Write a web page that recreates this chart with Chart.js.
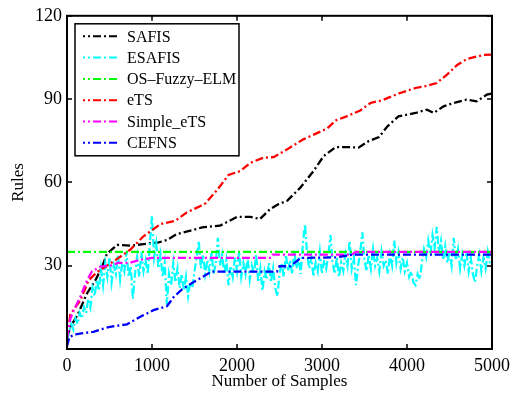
<!DOCTYPE html>
<html>
<head>
<meta charset="utf-8">
<script src="https://cdn.jsdelivr.net/npm/chart.js@4/dist/chart.umd.min.js"></script>
<style>
html,body{margin:0;padding:0;background:#fff;}
#c{display:block;}
</style>
</head>
<body>
<canvas id="c" width="516" height="394"></canvas>
<script>
// ---- data ----
const seriesNames = ["SAFIS", "ESAFIS", "OS\u2013Fuzzy\u2013ELM", "eTS", "Simple_eTS", "CEFNS"];
const xTickValues = [0, 1000, 2000, 3000, 4000, 5000];
const yTickValues = [30, 60, 90, 120];

const safisSamples = [0, 40, 120, 235, 333, 412, 470, 590, 750, 900, 1080, 1180, 1290, 1450, 1590, 1800, 2000, 2160, 2270, 2390, 2490, 2590, 2745, 2900, 3020, 3160, 3330, 3430, 3550, 3670, 3770, 3900, 4100, 4235, 4315, 4430, 4550, 4700, 4820, 4940, 5000];
const safisRules   = [4, 8, 12, 20, 24.7, 29.5, 34.3, 37.5, 37.2, 37.8, 38.4, 39.3, 41.4, 42.6, 43.8, 44.4, 47.6, 47.6, 46.8, 50.4, 52.2, 53.4, 58.1, 64.1, 69.5, 72.7, 72.7, 72.5, 74.9, 76.3, 80.2, 83.8, 85, 86.2, 85, 87.4, 88.6, 89.8, 89.2, 91.6, 92];

const esafisStep = 25; // one reading every 25 samples
const esafisRules = [
  3,6,9,7,11,9,13,11,15,13,18,15,22,19,25,21,29,23,31,26,
  33,24,30,27,34,25,31,28,35,26,30,18,27,33,26,35,28,32,27,38,
  48,33,38,29,34,26,31,16,27,23,31,24,29,22,27,21,26,19,24,22,
  28,33,39,29,34,27,32,28,35,27,31,40,30,34,27,32,23,30,26,33,
  28,35,26,31,27,33,25,30,27,34,24,29,21,28,25,31,24,29,22,19,
  27,31,26,34,28,32,27,35,29,33,27,38,45,34,29,33,26,31,28,35,
  27,32,29,34,41,31,27,33,26,31,28,34,30,39,29,33,23,30,35,42,
  32,28,34,29,36,30,33,28,35,30,32,27,34,30,39,31,35,29,33,28,
  31,26,28,24,23,27,25,31,36,33,39,34,41,36,44,35,39,32,37,31,
  35,30,40,32,36,29,34,30,35,28,33,27,24,30,34,28,33,29,35,31,
  30
];

const osElmSamples = [0, 5000];
const osElmRules   = [35, 35];

const etsSamples = [0, 40, 156, 254, 353, 510, 607, 745, 900, 1100, 1275, 1410, 1570, 1630, 1765, 1900, 2040, 2160, 2310, 2430, 2590, 2780, 3060, 3160, 3290, 3450, 3570, 3710, 3920, 4100, 4235, 4350, 4470, 4590, 4710, 4900, 5000];
const etsRules   = [4, 12.5, 17.5, 24.7, 27.7, 30.8, 32.8, 35.8, 40.6, 45, 46.2, 49.2, 51.5, 52.5, 57.2, 62.7, 64.1, 67.1, 68.9, 69.1, 71.9, 75.5, 79.4, 82.3, 83.8, 85.9, 88.6, 89.6, 92.2, 94, 94.8, 95.8, 98.8, 102.3, 104.5, 105.9, 106];

const simpleSamples = [0, 40, 80, 156, 235, 294, 392, 510, 600, 730, 860, 1000, 2400, 2420, 3350, 3400, 5000];
const simpleRules   = [4, 11, 14, 18.7, 24.7, 28, 29.7, 30, 31, 31, 32.1, 32.8, 32.8, 34, 34, 35, 35];

const cefnsSamples = [0, 30, 118, 310, 490, 705, 862, 1018, 1176, 1255, 1353, 1490, 1647, 1700, 2470, 2500, 2630, 2750, 3170, 3370, 5000];
const cefnsRules   = [1, 4.4, 5.4, 6.2, 7.9, 8.9, 11.6, 14, 15.4, 18.7, 21.5, 24.1, 26.9, 27.9, 27.9, 29.8, 29.8, 32.8, 33, 34, 34];

// ---- build chart ----
function pairs(xs, ys){ return ys.map((v,i)=>({x:xs[i], y:v})); }
const esafisPoints = esafisRules.map((v,i)=>({x:i*esafisStep, y:v}));

const FONT = "'Liberation Serif','Times New Roman',Times,serif";
const DASH = [8,3,2,3];

function ds(label, data, color, order, width){
  return {label, data, borderColor: color, backgroundColor: color, borderWidth: width||2.3,
          borderDash: DASH, pointRadius: 0, tension: 0, fill: false, order};
}

const datasets = [
  ds(seriesNames[0], pairs(safisSamples, safisRules), '#000000', 6),
  ds(seriesNames[1], esafisPoints, '#00FFFF', 5, 2.2),
  ds(seriesNames[2], pairs(osElmSamples, osElmRules), '#00FF00', 4),
  ds(seriesNames[3], pairs(etsSamples, etsRules), '#FF0000', 3),
  ds(seriesNames[4], pairs(simpleSamples, simpleRules), '#FF00FF', 2),
  ds(seriesNames[5], pairs(cefnsSamples, cefnsRules), '#0000FF', 1)
];

const framePlugin = {
  id: 'frame',
  afterDraw(chart){
    const {ctx, chartArea:a, scales:{x, y}} = chart;
    ctx.save();
    ctx.strokeStyle = '#000';
    ctx.lineWidth = 1.5;
    ctx.setLineDash([]);
    const T = 5;
    ctx.beginPath();
    xTickValues.forEach(v=>{
      const px = Math.round(x.getPixelForValue(v));
      ctx.moveTo(px, a.bottom); ctx.lineTo(px, a.bottom - T);
      ctx.moveTo(px, a.top); ctx.lineTo(px, a.top + T);
    });
    [0].concat(yTickValues).forEach(v=>{
      const py = Math.round(y.getPixelForValue(v));
      ctx.moveTo(a.left, py); ctx.lineTo(a.left + T, py);
      ctx.moveTo(a.right, py); ctx.lineTo(a.right - T, py);
    });
    ctx.stroke();
    ctx.lineWidth = 2;
    ctx.strokeRect(a.left, a.top, a.right - a.left, a.bottom - a.top);

    // legend box
    const lx = a.left + 8, ly = a.top + 8, lw = 164, lh = 132;
    ctx.fillStyle = '#fff';
    ctx.fillRect(lx, ly, lw, lh);
    ctx.lineWidth = 1.5;
    ctx.strokeRect(lx, ly, lw, lh);
    ctx.font = "16px " + FONT;
    ctx.textBaseline = 'middle';
    ctx.textAlign = 'left';
    chart.data.datasets.forEach((d, i)=>{
      const cy = ly + 12.5 + i * 21.3;
      ctx.strokeStyle = d.borderColor;
      ctx.lineWidth = 2;
      ctx.setLineDash(DASH);
      ctx.lineDashOffset = 6;
      ctx.beginPath();
      ctx.moveTo(lx + 8, cy); ctx.lineTo(lx + 43, cy);
      ctx.stroke();
      ctx.setLineDash([]);
      ctx.fillStyle = '#000';
      ctx.fillText(d.label, lx + 52, cy + 1);
    });
    ctx.restore();
  }
};

new Chart(document.getElementById('c'), {
  type: 'line',
  data: { datasets },
  options: {
    responsive: false,
    animation: false,
    devicePixelRatio: 1,
    layout: { padding: { left: 0, right: 24, top: 14, bottom: 0 } },
    plugins: { legend: { display: false }, tooltip: { enabled: false } },
    scales: {
      x: {
        type: 'linear', min: 0, max: 5000,
        afterFit(s){ s.height = 45; },
        afterBuildTicks(s){ s.ticks = xTickValues.map(v=>({value:v})); },
        ticks: { color: '#000', font: { family: FONT, size: 18 }, padding: 6, maxRotation: 0,
                 callback: v => String(v) },
        grid: { display: false, drawTicks: false },
        border: { display: false },
        title: { display: true, text: 'Number of Samples', color: '#000',
                 font: { family: FONT, size: 17 }, padding: { top: 0, bottom: 2 } }
      },
      y: {
        type: 'linear', min: 0, max: 120,
        afterFit(s){ s.width = 67; },
        afterBuildTicks(s){ s.ticks = yTickValues.map(v=>({value:v})); },
        ticks: { color: '#000', font: { family: FONT, size: 18 }, padding: 5,
                 callback: v => String(v) },
        grid: { display: false, drawTicks: false },
        border: { display: false },
        title: { display: true, text: 'Rules', color: '#000',
                 font: { family: FONT, size: 17 }, padding: { top: 8, bottom: 0 } }
      }
    }
  },
  plugins: [framePlugin]
});
</script>
</body>
</html>
